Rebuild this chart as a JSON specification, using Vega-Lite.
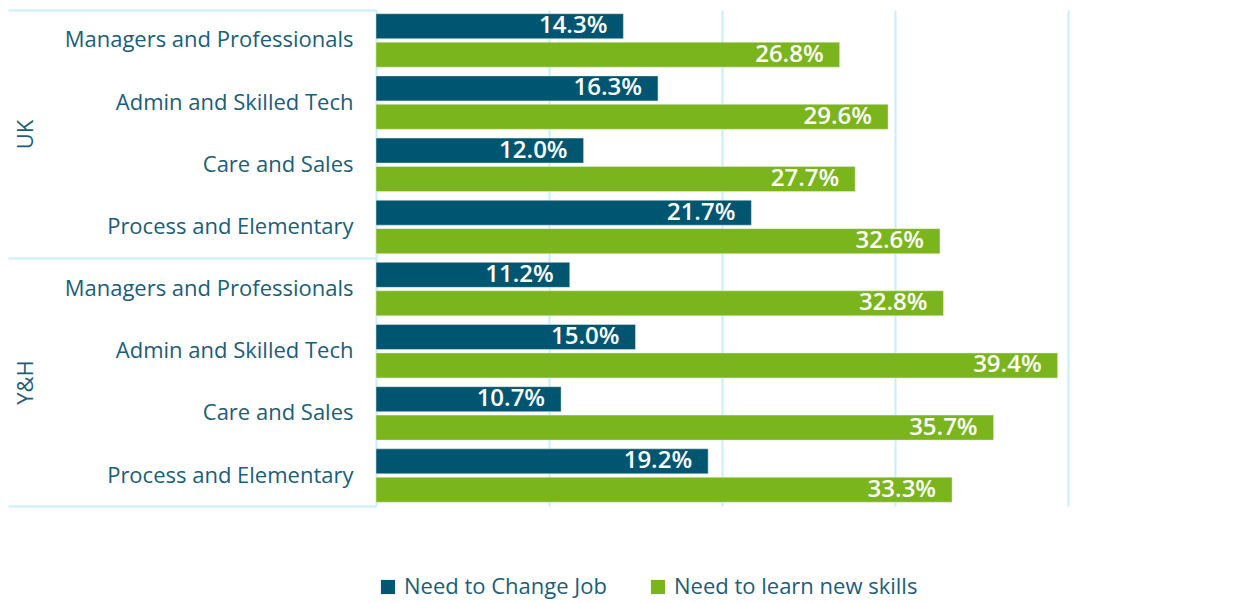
{
  "$schema": "https://vega.github.io/schema/vega-lite/v6.json",
  "width": 692,
  "height": 496,
  "autosize": {"type": "none"},
  "padding": {"left": 376, "top": 10, "right": 168, "bottom": 97},
  "background": "white",
  "config": {"view": {"stroke": null}, "font": "Open Sans"},
  "data": {
    "values": [
      {"group": "UK", "key": "UK|Managers and Professionals", "series": "Need to Change Job", "value": 0.143},
      {"group": "UK", "key": "UK|Managers and Professionals", "series": "Need to learn new skills", "value": 0.268},
      {"group": "UK", "key": "UK|Admin and Skilled Tech", "series": "Need to Change Job", "value": 0.163},
      {"group": "UK", "key": "UK|Admin and Skilled Tech", "series": "Need to learn new skills", "value": 0.296},
      {"group": "UK", "key": "UK|Care and Sales", "series": "Need to Change Job", "value": 0.120},
      {"group": "UK", "key": "UK|Care and Sales", "series": "Need to learn new skills", "value": 0.277},
      {"group": "UK", "key": "UK|Process and Elementary", "series": "Need to Change Job", "value": 0.217},
      {"group": "UK", "key": "UK|Process and Elementary", "series": "Need to learn new skills", "value": 0.326},
      {"group": "Y&H", "key": "Y&H|Managers and Professionals", "series": "Need to Change Job", "value": 0.112},
      {"group": "Y&H", "key": "Y&H|Managers and Professionals", "series": "Need to learn new skills", "value": 0.328},
      {"group": "Y&H", "key": "Y&H|Admin and Skilled Tech", "series": "Need to Change Job", "value": 0.150},
      {"group": "Y&H", "key": "Y&H|Admin and Skilled Tech", "series": "Need to learn new skills", "value": 0.394},
      {"group": "Y&H", "key": "Y&H|Care and Sales", "series": "Need to Change Job", "value": 0.107},
      {"group": "Y&H", "key": "Y&H|Care and Sales", "series": "Need to learn new skills", "value": 0.357},
      {"group": "Y&H", "key": "Y&H|Process and Elementary", "series": "Need to Change Job", "value": 0.192},
      {"group": "Y&H", "key": "Y&H|Process and Elementary", "series": "Need to learn new skills", "value": 0.333}
    ]
  },
  "layer": [
    {
      "layer": [
        {
          "mark": {"type": "bar", "stroke": "#e4f0d6", "strokeWidth": 0.5},
          "encoding": {
            "y": {
              "field": "key", "type": "nominal", "sort": null,
              "scale": {"paddingInner": 0.14, "paddingOuter": 0.06},
              "axis": {
                "orient": "left", "title": null, "domain": false, "ticks": false,
                "labelPadding": 23, "labelFontSize": 22, "labelColor": "#1c5d77",
                "labelLimit": 400, "labelExpr": "split(datum.label, '|')[1]"
              }
            },
            "yOffset": {"field": "series", "type": "nominal", "sort": null, "scale": {"paddingInner": 0.12}},
            "x": {
              "field": "value", "type": "quantitative",
              "scale": {"domain": [0, 0.4], "nice": false},
              "axis": {
                "values": [0, 0.1, 0.2, 0.3, 0.4], "grid": true, "gridColor": "#c7eef9", "gridWidth": 2,
                "labels": false, "ticks": false, "domain": false, "title": null
              }
            },
            "color": {
              "field": "series", "type": "nominal", "sort": null,
              "scale": {"domain": ["Need to Change Job", "Need to learn new skills"], "range": ["#005670", "#7ab51d"]},
              "legend": {
                "orient": "none", "legendX": 1, "legendY": 566, "direction": "horizontal", "title": null,
                "symbolType": "square", "symbolSize": 200, "symbolStrokeWidth": 0, "labelLimit": 400,
                "labelFontSize": 22, "labelColor": "#1c5d77", "columnPadding": 40, "labelOffset": 5
              }
            }
          }
        },
        {
          "mark": {"type": "text", "align": "right", "dx": -16, "color": "white", "fontSize": 24, "font": "Open Sans", "fontWeight": 600},
          "encoding": {
            "y": {"field": "key", "type": "nominal", "sort": null},
            "yOffset": {"field": "series", "type": "nominal", "sort": null},
            "x": {"field": "value", "type": "quantitative"},
            "text": {"field": "value", "type": "quantitative", "format": ".1%"}
          }
        }
      ]
    },
    {
      "mark": {"type": "bar", "opacity": 0},
      "encoding": {
        "y": {
          "field": "group", "type": "nominal", "sort": null,
          "scale": {"paddingInner": 0, "paddingOuter": 0},
          "axis": {
            "orient": "left", "title": null, "domain": false, "grid": false,
            "tickBand": "extent", "tickSize": 368, "tickColor": "#c7eef9", "tickWidth": 2,
            "labelAngle": -90, "labelAlign": "center", "labelBaseline": "middle",
            "labelPadding": -17, "labelFontSize": 22, "labelColor": "#1c5d77"
          }
        }
      }
    }
  ],
  "resolve": {"scale": {"y": "independent"}}
}
